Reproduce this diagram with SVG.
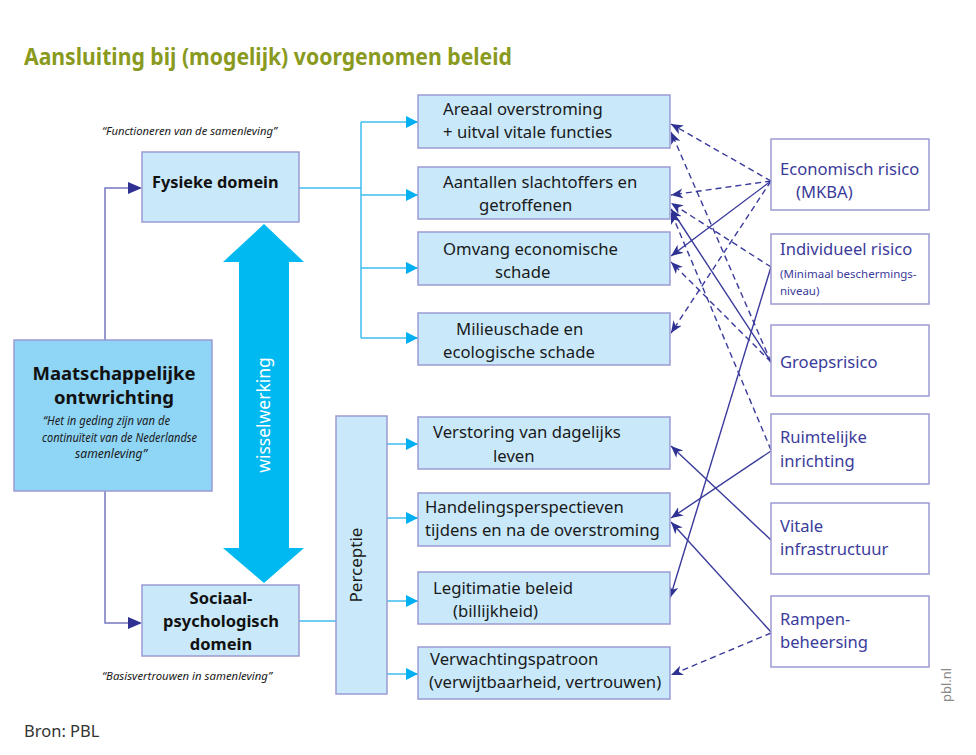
<svg xmlns="http://www.w3.org/2000/svg" width="976" height="755" viewBox="0 0 976 755">
<style>
.box{fill:#c9e9fa;stroke:#9a9ad4;stroke-width:1.5}
.rbox{fill:#ffffff;stroke:#9a9ad4;stroke-width:1.5}
.t{font-family:"Noto Sans","Open Sans",sans-serif;font-size:16.7px;fill:#1a1a1a}
.rt{font-family:"Noto Sans","Open Sans",sans-serif;font-size:16.6px;fill:#3b3b9b}
.b{font-family:"Noto Sans","Open Sans",sans-serif;font-weight:bold;fill:#111}
.q{font-family:"Noto Sans","Liberation Sans",sans-serif;font-style:italic;fill:#1a1a1a}
.cy{stroke:#3fbdf0;stroke-width:1.5;fill:none}
.lp{stroke:#7676c4;stroke-width:1.5;fill:none}
.nv{stroke:#3a3a9c;stroke-width:1.4;fill:none;marker-end:url(#barb)}
.dash{stroke-dasharray:6 4}
</style>
<defs>
<marker id="barb" markerUnits="userSpaceOnUse" markerWidth="14" markerHeight="12" refX="12" refY="5" orient="auto">
<path d="M0,0 L12,5 L0,10 L3.5,5 z" fill="#2e3192"/>
</marker>
<marker id="cyh" markerUnits="userSpaceOnUse" markerWidth="14" markerHeight="14" refX="12" refY="6" orient="auto">
<path d="M0,0 L12,6 L0,12 z" fill="#00b0f0"/>
</marker>
</defs>
<rect width="976" height="755" fill="#ffffff"/>
<text x="24" y="65" font-family="Noto Sans,Open Sans,sans-serif" font-weight="bold" font-size="23.5" fill="#899a1e" textLength="488" lengthAdjust="spacingAndGlyphs">Aansluiting bij (mogelijk) voorgenomen beleid</text>

<g id="connectors">
<polyline class="lp" points="105,340 105,188 128,188"/>
<path d="M128,182 L142,188 L128,194 z" fill="#2e3192"/>
<polyline class="lp" points="105,491 105,623 128,623"/>
<path d="M128,617 L142,623 L128,629 z" fill="#2e3192"/>
<line class="cy" x1="299" y1="188" x2="361" y2="188"/>
<line class="cy" x1="361" y1="122" x2="361" y2="338"/>
<line class="cy" x1="361" y1="122" x2="418" y2="122" marker-end="url(#cyh)"/>
<line class="cy" x1="361" y1="195" x2="418" y2="195" marker-end="url(#cyh)"/>
<line class="cy" x1="361" y1="268" x2="418" y2="268" marker-end="url(#cyh)"/>
<line class="cy" x1="361" y1="338" x2="418" y2="338" marker-end="url(#cyh)"/>
<line class="cy" x1="299" y1="621" x2="336" y2="621"/>
<line class="cy" x1="387" y1="444" x2="418" y2="444" marker-end="url(#cyh)"/>
<line class="cy" x1="387" y1="518" x2="418" y2="518" marker-end="url(#cyh)"/>
<line class="cy" x1="387" y1="601" x2="418" y2="601" marker-end="url(#cyh)"/>
<line class="cy" x1="387" y1="674" x2="418" y2="674" marker-end="url(#cyh)"/>
<line class="nv dash" x1="771" y1="181" x2="671" y2="124"/>
<line class="nv dash" x1="771" y1="181" x2="671" y2="195"/>
<line class="nv" x1="771" y1="181" x2="671" y2="256"/>
<line class="nv dash" x1="771" y1="181" x2="671" y2="333"/>
<line class="nv dash" x1="771" y1="267" x2="671" y2="203"/>
<line class="nv" x1="771" y1="267" x2="670" y2="598"/>
<line class="nv dash" x1="771" y1="362" x2="671" y2="132"/>
<line class="nv" x1="771" y1="362" x2="671" y2="209"/>
<line class="nv dash" x1="771" y1="362" x2="671" y2="262"/>
<line class="nv dash" x1="771" y1="450" x2="671" y2="212"/>
<line class="nv" x1="771" y1="451" x2="671" y2="518"/>
<line class="nv" x1="771" y1="540" x2="671" y2="446"/>
<line class="nv" x1="771" y1="632" x2="671" y2="522"/>
<line class="nv dash" x1="771" y1="633" x2="671" y2="675"/>
</g>

<g id="maatschappelijke">
<rect x="14" y="340" width="198" height="151" fill="#8fd5f6" stroke="#9a9ad4" stroke-width="1.5"/>
<text class="b" font-size="18.5" x="114" y="380" text-anchor="middle">Maatschappelijke</text>
<text class="b" font-size="18.5" x="114" y="404" text-anchor="middle">ontwrichting</text>
<text class="q" font-size="12" x="43" y="425" textLength="127" lengthAdjust="spacingAndGlyphs">“Het in geding zijn van de</text>
<text class="q" font-size="12" x="42" y="442" textLength="155" lengthAdjust="spacingAndGlyphs">continuïteit van de Nederlandse</text>
<text class="q" font-size="12" x="75" y="458" textLength="72" lengthAdjust="spacingAndGlyphs">samenleving”</text>
</g>

<g id="fysieke">
<text class="q" font-size="11.5" x="102" y="135" textLength="175" lengthAdjust="spacingAndGlyphs">“Functioneren van de samenleving”</text>
<rect class="box" x="142" y="152" width="157" height="70"/>
<text class="b" font-size="16.3" x="152" y="188">Fysieke domein</text>
</g>

<g id="sociaal">
<rect class="box" x="142" y="585" width="157" height="71"/>
<text class="b" font-size="16.5" x="221" y="604" text-anchor="middle">Sociaal-</text>
<text class="b" font-size="16.5" x="221" y="627" text-anchor="middle">psychologisch</text>
<text class="b" font-size="16.5" x="221" y="650" text-anchor="middle">domein</text>
<text class="q" font-size="11.5" x="102" y="680" textLength="170" lengthAdjust="spacingAndGlyphs">“Basisvertrouwen in samenleving”</text>
</g>

<g id="wisselwerking">
<polygon points="264,224 304,262 289,262 289,548 304,548 264,583 223,548 239,548 239,262 223,262" fill="#00b9f1"/>
<text transform="translate(270,415) rotate(-90)" text-anchor="middle" font-family="Noto Sans,Open Sans,sans-serif" font-size="17.5" fill="#ffffff">wisselwerking</text>
</g>

<g id="perceptie">
<rect class="box" x="336" y="416" width="51" height="278"/>
<text transform="translate(362,565) rotate(-90)" text-anchor="middle" class="t" style="font-size:17px">Perceptie</text>
</g>

<g id="areaal">
<rect class="box" x="418" y="95" width="252" height="53"/>
<text class="t" x="443" y="115">Areaal overstroming</text>
<text class="t" x="443" y="138">+ uitval vitale functies</text>
</g>
<g id="slachtoffers">
<rect class="box" x="418" y="167" width="252" height="52"/>
<text class="t" x="443" y="188">Aantallen slachtoffers en</text>
<text class="t" x="479" y="211">getroffenen</text>
</g>
<g id="economische-schade">
<rect class="box" x="418" y="232" width="252" height="53"/>
<text class="t" x="443" y="255">Omvang economische</text>
<text class="t" x="495" y="278">schade</text>
</g>
<g id="milieuschade">
<rect class="box" x="418" y="313" width="252" height="52"/>
<text class="t" x="456" y="335">Milieuschade en</text>
<text class="t" x="443" y="358">ecologische schade</text>
</g>
<g id="verstoring">
<rect class="box" x="418" y="417" width="252" height="52"/>
<text class="t" x="433" y="438">Verstoring van dagelijks</text>
<text class="t" x="493" y="462">leven</text>
</g>
<g id="handelingsperspectieven">
<rect class="box" x="418" y="493" width="252" height="53"/>
<text class="t" x="425" y="513">Handelingsperspectieven</text>
<text class="t" x="425" y="536">tijdens en na de overstroming</text>
</g>
<g id="legitimatie">
<rect class="box" x="418" y="572" width="252" height="52"/>
<text class="t" x="433" y="594">Legitimatie beleid</text>
<text class="t" x="453" y="617">(billijkheid)</text>
</g>
<g id="verwachtingspatroon">
<rect class="box" x="418" y="647" width="252" height="52"/>
<text class="t" x="430" y="665">Verwachtingspatroon</text>
<text class="t" x="429" y="688">(verwijtbaarheid, vertrouwen)</text>
</g>

<g id="economisch-risico">
<rect class="rbox" x="771" y="139" width="158" height="71"/>
<text class="rt" x="780" y="175">Economisch risico</text>
<text class="rt" x="796" y="198">(MKBA)</text>
</g>
<g id="individueel-risico">
<rect class="rbox" x="771" y="234" width="158" height="70"/>
<text class="rt" x="780" y="255">Individueel risico</text>
<text class="rt" x="780" y="278" style="font-size:11.5px">(Minimaal beschermings-</text>
<text class="rt" x="780" y="295" style="font-size:11.5px">niveau)</text>
</g>
<g id="groepsrisico">
<rect class="rbox" x="771" y="325" width="158" height="71"/>
<text class="rt" x="780" y="368">Groepsrisico</text>
</g>
<g id="ruimtelijke-inrichting">
<rect class="rbox" x="771" y="414" width="158" height="70"/>
<text class="rt" x="780" y="443">Ruimtelijke</text>
<text class="rt" x="780" y="467">inrichting</text>
</g>
<g id="vitale-infrastructuur">
<rect class="rbox" x="771" y="503" width="158" height="71"/>
<text class="rt" x="780" y="532">Vitale</text>
<text class="rt" x="780" y="555">infrastructuur</text>
</g>
<g id="rampenbeheersing">
<rect class="rbox" x="771" y="596" width="158" height="71"/>
<text class="rt" x="780" y="625">Rampen-</text>
<text class="rt" x="780" y="648">beheersing</text>
</g>

<text transform="translate(951,685) rotate(-90)" text-anchor="middle" font-family="Noto Sans,Open Sans,sans-serif" font-size="13" fill="#8a8a8a">pbl.nl</text>
<text x="24" y="737" font-family="Noto Sans,Open Sans,sans-serif" font-size="16.5" fill="#333333">Bron: PBL</text>
</svg>
